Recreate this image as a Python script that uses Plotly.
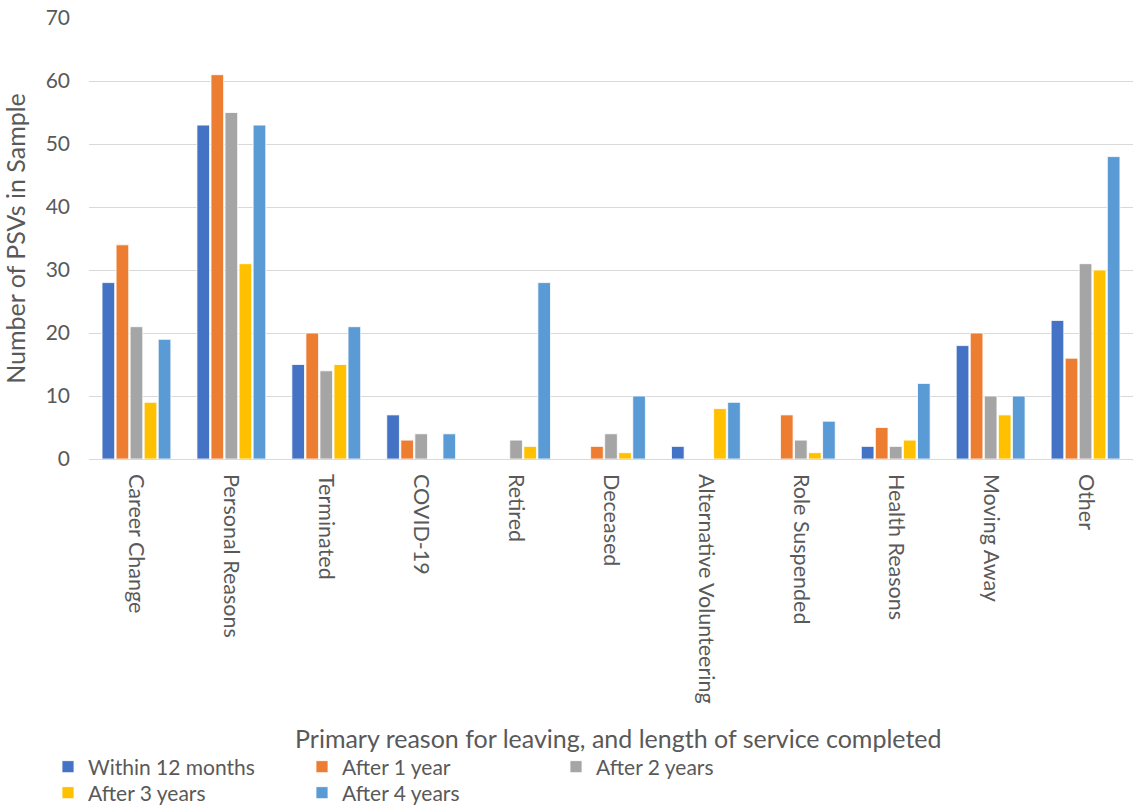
import plotly.graph_objects as go

categories = ["Career Change", "Personal Reasons", "Terminated", "COVID-19", "Retired",
              "Deceased", "Alternative Volunteering", "Role Suspended", "Health Reasons",
              "Moving Away", "Other"]
within_12_months = [28, 53, 15, 7, 0, 0, 2, 0, 2, 18, 22]
after_1_year = [34, 61, 20, 3, 0, 2, 0, 7, 5, 20, 16]
after_2_years = [21, 55, 14, 4, 3, 4, 0, 3, 2, 10, 31]
after_3_years = [9, 31, 15, 0, 2, 1, 8, 1, 3, 7, 30]
after_4_years = [19, 53, 21, 4, 28, 10, 9, 6, 12, 10, 48]

series = [
    ("Within 12 months", within_12_months, "#4472C4", "legend"),
    ("After 1 year", after_1_year, "#ED7D31", "legend"),
    ("After 2 years", after_2_years, "#A5A5A5", "legend"),
    ("After 3 years", after_3_years, "#FFC000", "legend2"),
    ("After 4 years", after_4_years, "#5B9BD5", "legend2"),
]

FONT = "Lato"
GREY = "#595959"

fig = go.Figure()
for name, vals, col, lg in series:
    fig.add_trace(go.Bar(
        x=categories, y=vals, name=name, legend=lg,
        marker=dict(color=col, line=dict(color="white", width=0.8)),
    ))

leg_common = dict(
    orientation="h", xref="container", yref="container", xanchor="left", yanchor="middle",
    entrywidth=209, entrywidthmode="pixels",
    font=dict(family=FONT, size=21, color=GREY),
    bgcolor="rgba(0,0,0,0)", itemclick=False, itemdoubleclick=False,
    tracegroupgap=0, itemwidth=30,
)

fig.update_layout(
    width=1135, height=806,
    margin=dict(l=89, r=2, t=18, b=347, autoexpand=False),
    paper_bgcolor="white", plot_bgcolor="white",
    barmode="group", bargap=0.26, bargroupgap=0.1,
    font=dict(family=FONT, color=GREY),
    showlegend=True,
    legend=dict(x=48 / 1135, y=1 - 767 / 806, **leg_common),
    legend2=dict(x=48 / 1135, y=1 - 793 / 806, **leg_common),
    xaxis=dict(
        tickangle=90, tickfont=dict(family=FONT, size=21.5, color=GREY),
        showgrid=False, showline=False, ticks="", ticklabelstandoff=14,
    ),
    yaxis=dict(
        range=[0, 70], dtick=10, showgrid=True, gridcolor="#D9D9D9", gridwidth=1,
        zeroline=True, zerolinecolor="#D9D9D9", zerolinewidth=1,
        tickfont=dict(family=FONT, size=21, color=GREY), ticks="", ticklabelstandoff=18,
        title=dict(text="Number of PSVs in Sample", font=dict(family=FONT, size=25, color=GREY),
                   standoff=12),
    ),
    annotations=[dict(
        text="Primary reason for leaving, and length of service completed",
        xref="paper", yref="paper", x=0.507, y=-0.633, xanchor="center", yanchor="middle",
        showarrow=False, font=dict(family=FONT, size=25, color=GREY),
    )],
)

fig.write_html("out.html")
